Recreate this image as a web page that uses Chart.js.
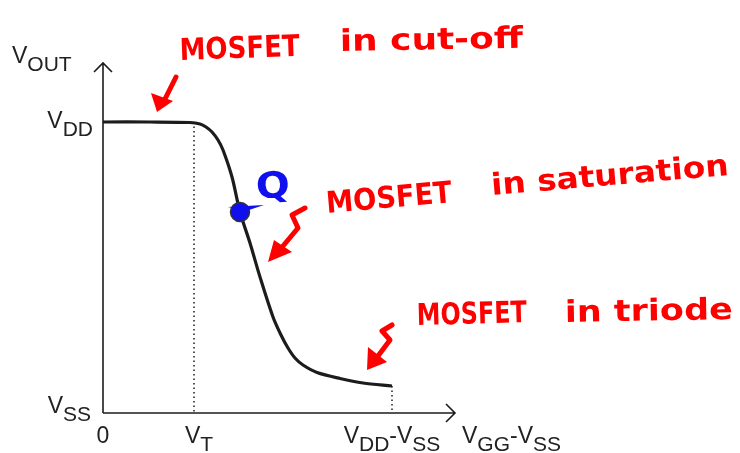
<!DOCTYPE html>
<html>
<head>
<meta charset="UTF-8">
<title>MOSFET transfer curve</title>
<script src="https://cdn.jsdelivr.net/npm/chart.js"></script>
<style>
  body { margin: 0; background: #fff; }
  #wrap { width: 740px; height: 453px; }
</style>
</head>
<body>
<div id="wrap"><canvas id="c"></canvas></div>
<script>
// transfer curve V_OUT vs V_GG-V_SS (arbitrary units)
const vin  = [0, 4.7, 8.7, 9.7, 10.3, 10.9, 11.5, 12.0, 12.9, 13.7, 14.7, 15.7, 17.0, 17.8, 18.5, 19.2, 20.0, 21.4, 23.7, 26.0, 28.9];
const vout = [29.1, 29.1, 29.05, 28.9, 28.6, 28.1, 27.3, 26.3, 23.6, 20.1, 17.0, 13.6, 9.6, 7.8, 6.5, 5.5, 4.8, 4.05, 3.45, 3.0, 2.7];
const qPoint = [13.7, 20.1];
const vT = 9.1;
const vDD = 29.1;
const vEnd = 28.9;
const xTickVals = [0, vT, vEnd];
const xTickLabels = [[['0', 0]], [['V', 0], ['T', 1]], [['V', 0], ['DD', 1], ['-', 0], ['V', 0], ['SS', 1]]];

const ink = '#1c1c1c';

function drawParts(ctx, parts, x, y, align) {
  const fm = '23px "Liberation Sans", Arial, sans-serif';
  const fs = '21px "Liberation Sans", Arial, sans-serif';
  let w = 0;
  parts.forEach(p => { ctx.font = p[1] ? fs : fm; w += ctx.measureText(p[0]).width; });
  let cx = align === 'center' ? x - w / 2 : align === 'right' ? x - w : x;
  ctx.textAlign = 'left';
  ctx.textBaseline = 'alphabetic';
  parts.forEach(p => {
    ctx.font = p[1] ? fs : fm;
    ctx.fillText(p[0], cx, p[1] ? y + 8 : y);
    cx += ctx.measureText(p[0]).width;
  });
}

function fitText(ctx, txt, x, y, w, size, angle) {
  ctx.save();
  ctx.translate(x, y);
  ctx.rotate(angle * Math.PI / 180);
  ctx.font = 'bold ' + size + 'px "DejaVu Sans", sans-serif';
  ctx.textAlign = 'left';
  ctx.textBaseline = 'alphabetic';
  const m = ctx.measureText(txt).width;
  ctx.scale(w / m, 1);
  ctx.fillText(txt, 0, 0);
  ctx.restore();
}

function squiggleArrow(ctx, pts, head) {
  ctx.beginPath();
  ctx.moveTo(pts[0][0], pts[0][1]);
  for (let i = 1; i < pts.length; i++) ctx.lineTo(pts[i][0], pts[i][1]);
  ctx.stroke();
  ctx.beginPath();
  ctx.moveTo(head[0][0], head[0][1]);
  ctx.lineTo(head[1][0], head[1][1]);
  ctx.lineTo(head[2][0], head[2][1]);
  ctx.closePath();
  ctx.fill();
}

const decor = {
  id: 'decor',
  beforeDatasetsDraw(chart) {
    const ctx = chart.ctx;
    const xs = chart.scales.x, ys = chart.scales.y;
    const x0 = xs.getPixelForValue(0), y0 = ys.getPixelForValue(0);
    const xr = xs.right, yt = ys.top;
    ctx.save();
    // dotted guides
    ctx.strokeStyle = ink;
    ctx.lineWidth = 1.5;
    ctx.setLineDash([1.5, 3]);
    ctx.beginPath();
    ctx.moveTo(xs.getPixelForValue(vT), ys.getPixelForValue(vDD));
    ctx.lineTo(xs.getPixelForValue(vT), y0);
    ctx.moveTo(xs.getPixelForValue(vEnd), ys.getPixelForValue(vout[vout.length - 1]));
    ctx.lineTo(xs.getPixelForValue(vEnd), y0);
    ctx.stroke();
    ctx.setLineDash([]);
    // axes with arrows
    ctx.lineWidth = 1.6;
    ctx.beginPath();
    ctx.moveTo(x0, y0); ctx.lineTo(x0, yt);
    ctx.moveTo(x0 - 9, yt + 9); ctx.lineTo(x0, yt); ctx.lineTo(x0 + 9, yt + 9);
    ctx.moveTo(x0, y0); ctx.lineTo(xr, y0);
    ctx.moveTo(xr - 9, y0 - 9); ctx.lineTo(xr, y0); ctx.lineTo(xr - 9, y0 + 9);
    ctx.stroke();
    ctx.restore();
  },
  afterDraw(chart) {
    const ctx = chart.ctx;
    const xs = chart.scales.x, ys = chart.scales.y;
    const x0 = xs.getPixelForValue(0), y0 = ys.getPixelForValue(0);
    ctx.save();
    ctx.fillStyle = '#222';
    // axis labels
    drawParts(ctx, [['V', 0], ['OUT', 1]], 12, 63, 'left');
    drawParts(ctx, [['V', 0], ['DD', 1]], x0 - 10, ys.getPixelForValue(vDD) + 6, 'right');
    drawParts(ctx, [['V', 0], ['SS', 1]], x0 - 12, y0 + 0, 'right');
    xTickVals.forEach((v, i) => {
      drawParts(ctx, xTickLabels[i], xs.getPixelForValue(v) + (i === 1 ? 5 : 0), y0 + 30, 'center');
    });
    drawParts(ctx, [['V', 0], ['GG', 1], ['-', 0], ['V', 0], ['SS', 1]], 462, y0 + 30, 'left');

    // blue Q annotation
    ctx.fillStyle = '#1010ee';
    ctx.beginPath();
    ctx.moveTo(228, 207); ctx.lineTo(264, 205); ctx.lineTo(246, 211); ctx.closePath();
    ctx.fill();
    fitText(ctx, 'Q', 257, 199, 34, 36, -5);

    // red handwritten notes
    ctx.fillStyle = '#ff0000';
    ctx.strokeStyle = '#ff0000';
    ctx.lineWidth = 5;
    ctx.lineCap = 'round';
    ctx.lineJoin = 'round';
    fitText(ctx, 'MOSFET', 180, 60, 120, 30, -2);
    fitText(ctx, 'in cut-off', 340, 51, 183, 30, -1);
    squiggleArrow(ctx, [[176, 77], [164, 101]], [[157, 112], [151, 93], [173, 101]]);

    fitText(ctx, 'MOSFET', 327, 213, 126, 30, -5);
    fitText(ctx, 'in saturation', 492, 195, 238, 30, -4.8);
    squiggleArrow(ctx, [[305, 208], [292, 215], [298, 228], [283, 246]], [[268, 262], [274, 240], [292, 252]]);

    fitText(ctx, 'MOSFET', 417, 325, 110, 30, -1.5);
    fitText(ctx, 'in triode', 565, 322, 168, 30, -1);
    squiggleArrow(ctx, [[392, 325], [382, 331], [390, 340], [378, 356]], [[367, 370], [368, 347], [387, 362]]);
    ctx.restore();
  }
};

new Chart(document.getElementById('c'), {
  type: 'scatter',
  data: {
    datasets: [{
      data: vin.map((v, i) => ({ x: v, y: vout[i] })),
      showLine: true,
      borderColor: ink,
      borderWidth: 3.2,
      pointRadius: 0,
      tension: 0.3,
      order: 2
    }, {
      data: [{ x: qPoint[0], y: qPoint[1] }],
      pointRadius: 9.5,
      pointBackgroundColor: '#1010ee',
      pointBorderColor: '#333',
      pointBorderWidth: 1.5,
      order: 1
    }]
  },
  options: {
    responsive: true,
    maintainAspectRatio: false,
    animation: false,
    layout: { padding: { left: 103, top: 63, right: 285, bottom: 40 } },
    scales: {
      x: { type: 'linear', min: 0, max: 35.2, display: false },
      y: { type: 'linear', min: 0, max: 35, display: false }
    },
    plugins: { legend: { display: false }, tooltip: { enabled: false } }
  },
  plugins: [decor]
});
</script>
</body>
</html>
